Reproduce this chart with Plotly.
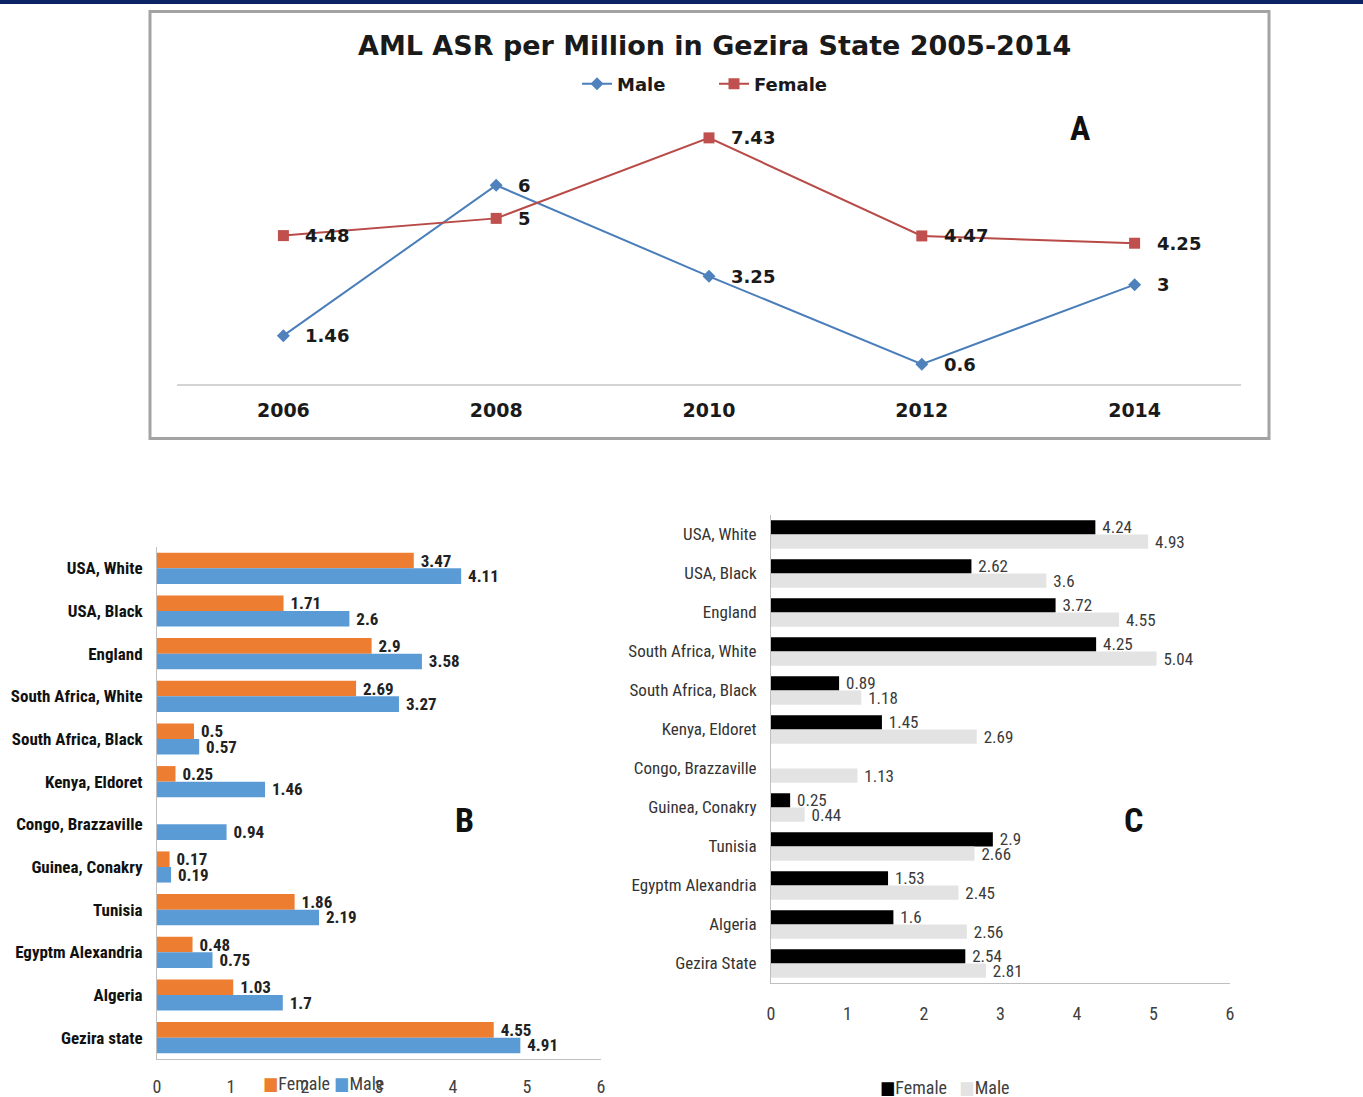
import plotly.graph_objects as go

# ---- Panel A: AML ASR per million in Gezira State ----
years = ["2006", "2008", "2010", "2012", "2014"]
male_asr = [1.46, 6, 3.25, 0.6, 3]
female_asr = [4.48, 5, 7.43, 4.47, 4.25]

# ---- Panels B and C: comparison with other registries ----
regions_b = ["USA, White", "USA, Black", "England", "South Africa, White",
             "South Africa, Black", "Kenya, Eldoret", "Congo, Brazzaville",
             "Guinea, Conakry", "Tunisia", "Egyptm Alexandria", "Algeria",
             "Gezira state"]
female_b = [3.47, 1.71, 2.9, 2.69, 0.5, 0.25, None, 0.17, 1.86, 0.48, 1.03, 4.55]
male_b = [4.11, 2.6, 3.58, 3.27, 0.57, 1.46, 0.94, 0.19, 2.19, 0.75, 1.7, 4.91]

regions_c = ["USA, White", "USA, Black", "England", "South Africa, White",
             "South Africa, Black", "Kenya, Eldoret", "Congo, Brazzaville",
             "Guinea, Conakry", "Tunisia", "Egyptm Alexandria", "Algeria",
             "Gezira State"]
female_c = [4.24, 2.62, 3.72, 4.25, 0.89, 1.45, None, 0.25, 2.9, 1.53, 1.6, 2.54]
male_c = [4.93, 3.6, 4.55, 5.04, 1.18, 2.69, 1.13, 0.44, 2.66, 2.45, 2.56, 2.81]

W, H = 1363, 1097
WIDE = "DejaVu Sans, Verdana, sans-serif"
NARROW = "Roboto Condensed, DejaVu Sans Condensed, sans-serif"


def px(x):
    return x / W


def py(y):
    return 1 - y / H


fig = go.Figure()

# Panel A lines
fig.add_trace(go.Scatter(
    x=years, y=male_asr, name="Male", mode="lines+markers",
    line=dict(color="#4A7EBB", width=2),
    marker=dict(symbol="diamond", size=10, color="#4F81BD"),
    xaxis="x", yaxis="y", legend="legend", cliponaxis=False))
fig.add_trace(go.Scatter(
    x=years, y=female_asr, name="Female", mode="lines+markers",
    line=dict(color="#B84A47", width=2),
    marker=dict(symbol="square", size=11, color="#C0504D"),
    xaxis="x", yaxis="y", legend="legend", cliponaxis=False))

# Value labels beside each point (category axis -> index positions)
annotations = []
label_font_a = dict(family=WIDE, size=18, color="#1a1a1a", weight="bold")
for series in (male_asr, female_asr):
    for i, v in enumerate(series):
        annotations.append(dict(x=i, y=v, xref="x", yref="y", text=f"{v:g}",
                                showarrow=False, xanchor="left", yanchor="middle",
                                xshift=20, font=label_font_a))

# Panel B bars
bar_b_font = dict(family=NARROW, size=17, color="#222222", weight="bold")
fig.add_trace(go.Bar(
    y=regions_b, x=female_b, orientation="h", name="Female",
    marker=dict(color="#ED7D31"), xaxis="x2", yaxis="y2", showlegend=False,
    text=[f" {v:g}" if v is not None else "" for v in female_b],
    textposition="outside", constraintext="none", cliponaxis=False,
    textfont=bar_b_font))
fig.add_trace(go.Bar(
    y=regions_b, x=male_b, orientation="h", name="Male",
    marker=dict(color="#5B9BD5"), xaxis="x2", yaxis="y2", showlegend=False,
    text=[f" {v:g}" for v in male_b],
    textposition="outside", constraintext="none", cliponaxis=False,
    textfont=bar_b_font))

# Panel C bars
bar_c_font = dict(family=NARROW, size=17, color="#3a3a3a")
fig.add_trace(go.Bar(
    y=regions_c, x=female_c, orientation="h", name="Female",
    marker=dict(color="#000000"), xaxis="x3", yaxis="y3", showlegend=False,
    text=[f" {v:g}" if v is not None else "" for v in female_c],
    textposition="outside", constraintext="none", cliponaxis=False,
    textfont=bar_c_font))
fig.add_trace(go.Bar(
    y=regions_c, x=male_c, orientation="h", name="Male",
    marker=dict(color="#E3E3E3"), xaxis="x3", yaxis="y3", showlegend=False,
    text=[f" {v:g}" for v in male_c],
    textposition="outside", constraintext="none", cliponaxis=False,
    textfont=bar_c_font))

# Panel letters
for letter, (lx, ly) in {"A": (1080, 128), "B": (464, 820), "C": (1133, 820)}.items():
    annotations.append(dict(x=px(lx), y=py(ly), xref="paper", yref="paper",
                            text=letter, showarrow=False, xanchor="center", yanchor="middle",
                            font=dict(family=NARROW, size=34, color="#111111", weight="bold")))

# Legends for B and C
annotations.append(dict(
    x=px(323), y=py(1083), xref="paper", yref="paper", showarrow=False,
    xanchor="center", yanchor="middle",
    text='<span style="color:#ED7D31">■</span>Female <span style="color:#5B9BD5">■</span>Male',
    font=dict(family=NARROW, size=18, color="#404040")))
annotations.append(dict(
    x=px(945), y=py(1087), xref="paper", yref="paper", showarrow=False,
    xanchor="center", yanchor="middle",
    text='<span style="color:#000000">■</span>Female   <span style="color:#E3E3E3">■</span>Male',
    font=dict(family=NARROW, size=18, color="#404040")))

# Title of panel A
annotations.append(dict(
    x=px(715), y=py(46), xref="paper", yref="paper", showarrow=False,
    xanchor="center", yanchor="middle",
    text="AML ASR per Million in Gezira State 2005-2014",
    font=dict(family=WIDE, size=27, color="#1a1a1a", weight="bold")))

shapes = [
    # top rule
    dict(type="rect", xref="paper", yref="paper", x0=0, x1=1, y0=py(4), y1=1,
         fillcolor="#0A2463", line=dict(width=0)),
    # frame around panel A
    dict(type="rect", xref="paper", yref="paper", x0=px(150), x1=px(1269),
         y0=py(438.5), y1=py(11.5), line=dict(color="#A3A3A3", width=3)),
]

axis_common = dict(showgrid=False, zeroline=False, automargin=False)
fig.update_layout(
    template="none",
    width=W, height=H, margin=dict(l=0, r=0, t=0, b=0, autoexpand=False),
    paper_bgcolor="white", plot_bgcolor="white",
    barmode="group", bargap=0.27, bargroupgap=0,
    annotations=annotations, shapes=shapes,
    legend=dict(orientation="h", x=px(577), xanchor="left", y=py(84), yanchor="middle",
                entrywidth=92, entrywidthmode="pixels",
                font=dict(family=WIDE, size=18, color="#1a1a1a", weight="bold"),
                bgcolor="rgba(0,0,0,0)", itemclick=False),
    xaxis=dict(domain=[px(177), px(1241)], type="category", range=[-0.5, 4.5],
               showline=True, linecolor="#D4D4D4", linewidth=2, ticks="",
               tickfont=dict(family=WIDE, size=19, color="#1a1a1a", weight="bold"),
               ticklabelstandoff=8, anchor="y", **axis_common),
    yaxis=dict(domain=[py(384), py(119)], range=[0, 8], showticklabels=False,
               showline=False, ticks="", anchor="x", **axis_common),
    xaxis2=dict(domain=[px(157), px(601)], range=[0, 6], dtick=1,
                showline=True, linecolor="#BFBFBF", linewidth=1, ticks="",
                tickfont=dict(family=NARROW, size=18, color="#404040"),
                ticklabelstandoff=11, anchor="y2", **axis_common),
    yaxis2=dict(domain=[py(1059), py(547)], autorange="reversed", type="category",
                showline=True, linecolor="#BFBFBF", linewidth=1, ticks="",
                tickfont=dict(family=NARROW, size=17, color="#111111", weight="bold"),
                ticklabelstandoff=10, anchor="x2", **axis_common),
    xaxis3=dict(domain=[px(771), px(1230)], range=[0, 6], dtick=1,
                showline=True, linecolor="#BFBFBF", linewidth=1, ticks="",
                tickfont=dict(family=NARROW, size=18, color="#404040"),
                ticklabelstandoff=14, anchor="y3", **axis_common),
    yaxis3=dict(domain=[py(983), py(515)], autorange="reversed", type="category",
                showline=True, linecolor="#BFBFBF", linewidth=1, ticks="",
                tickfont=dict(family=NARROW, size=17, color="#333333"),
                ticklabelstandoff=10, anchor="x3", **axis_common),
)

fig.write_html("out.html")
